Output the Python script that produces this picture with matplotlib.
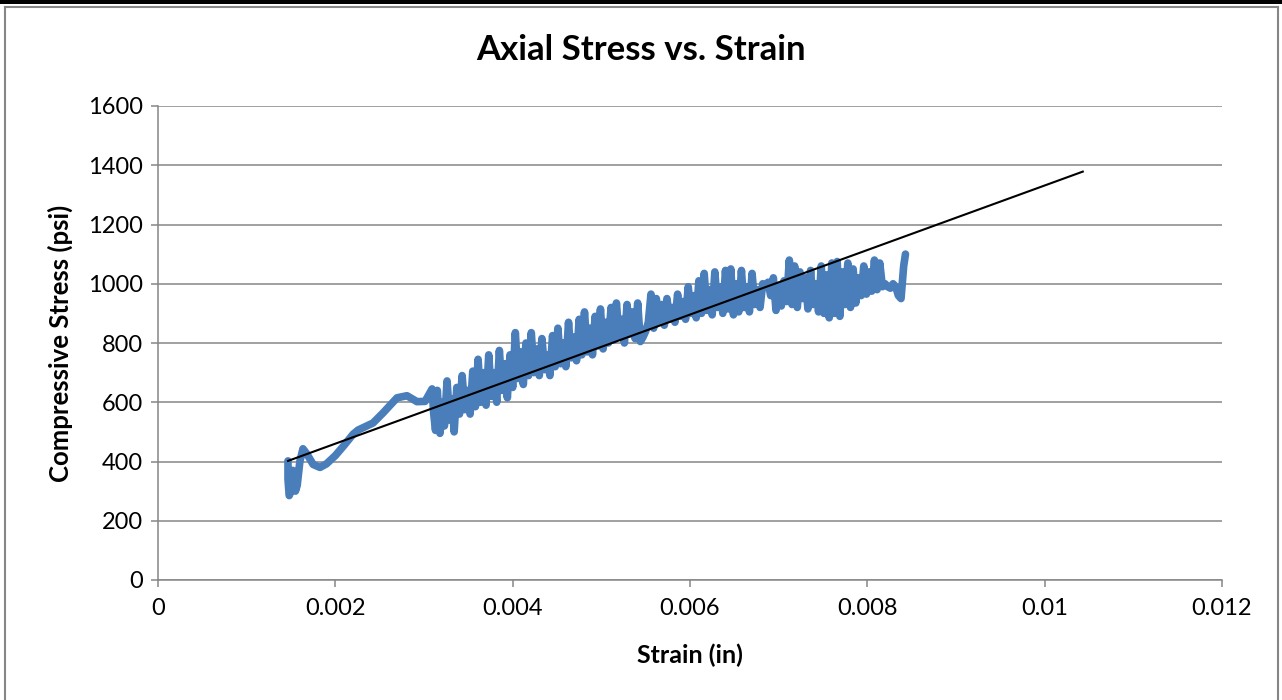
import matplotlib
matplotlib.use("Agg")
import matplotlib.pyplot as plt
from matplotlib.patches import Rectangle
from matplotlib.lines import Line2D

# Smooth start of the test record (strain, psi)
strain_start = [0.001466, 0.001466, 0.00148, 0.00150, 0.00152, 0.00154, 0.00155,
                0.00157, 0.00160, 0.001635, 0.00168, 0.00175, 0.001827, 0.00190,
                0.00200, 0.00210, 0.00220, 0.002256, 0.002425, 0.002538, 0.002696,
                0.002808, 0.002921, 0.003012, 0.003091]
stress_start = [402, 340, 285, 300, 370, 350, 300,
                320, 400, 443, 425, 390, 380, 392,
                420, 455, 492, 506, 530, 564, 615,
                622, 602, 603, 645]

# Noisy part of the record (one row of strain per row of stress)
strain_noisy = [
    0.00311, 0.00313, 0.00315, 0.00318, 0.00321, 0.00323, 0.00326, 0.00329, 0.00332, 0.00334,
    0.00337, 0.00340, 0.00343, 0.00346, 0.00349, 0.00352, 0.00355, 0.00358, 0.00361, 0.00364,
    0.00367, 0.00370, 0.00373, 0.00376, 0.00379, 0.00382, 0.00385, 0.00388, 0.00391, 0.00394,
    0.00397, 0.00400, 0.00403, 0.00406, 0.00409, 0.00412, 0.00415, 0.00418, 0.00421, 0.00424,
    0.00427, 0.00430, 0.00433, 0.00436, 0.00439, 0.00442, 0.00445, 0.00448, 0.00451, 0.00454,
    0.00457, 0.00460, 0.00463, 0.00466, 0.00469, 0.00472, 0.00475, 0.00478, 0.00481, 0.00484,
    0.00487, 0.00490, 0.00493, 0.00496, 0.00499, 0.00502, 0.00505, 0.00508, 0.00511, 0.00514,
    0.00517, 0.00520, 0.00523, 0.00526, 0.00529, 0.00532, 0.00535, 0.00538, 0.00541, 0.00544,
    0.00547, 0.00550, 0.00553, 0.00556, 0.00559, 0.00562, 0.00565, 0.00568, 0.00571, 0.00574,
    0.00577, 0.00580, 0.00583, 0.00586, 0.00589, 0.00592, 0.00595, 0.00598, 0.00601, 0.00604,
    0.00607, 0.00610, 0.00613, 0.00616, 0.00619, 0.00622, 0.00625, 0.00628, 0.00631, 0.00634,
    0.00637, 0.00640, 0.00643, 0.00646, 0.00649, 0.00652, 0.00655, 0.00658, 0.00661, 0.00664,
    0.00667, 0.00670, 0.00673, 0.00676, 0.00679, 0.00682, 0.00685, 0.00688, 0.00691, 0.00694,
    0.00697, 0.00700, 0.00703, 0.00706, 0.00709, 0.00712, 0.00715, 0.00718, 0.00721, 0.00724,
    0.00727, 0.00730, 0.00733, 0.00736, 0.00739, 0.00742, 0.00745, 0.00748, 0.00751, 0.00754,
    0.00757, 0.00760, 0.00763, 0.00766, 0.00769, 0.00772, 0.00775, 0.00778, 0.00781, 0.00784,
    0.00787, 0.00790, 0.00793, 0.00796, 0.00799, 0.00802, 0.00805, 0.00808, 0.00811, 0.00814,
    0.00817, 0.00820, 0.00823, 0.00826, 0.00829, 0.00832, 0.00835, 0.00838, 0.00841, 0.00843,
]
stress_noisy = [
    560, 505, 640, 495, 600, 520, 672, 540, 610, 500,
    650, 560, 690, 575, 640, 560, 705, 585, 745, 600,
    700, 590, 760, 620, 700, 600, 775, 640, 730, 615,
    760, 650, 835, 680, 770, 660, 800, 690, 835, 700,
    780, 690, 815, 710, 760, 690, 825, 720, 850, 730,
    800, 720, 870, 750, 820, 740, 880, 760, 905, 770,
    850, 760, 890, 790, 915, 780, 870, 800, 920, 810,
    935, 820, 880, 800, 930, 830, 905, 815, 935, 805,
    820, 840, 870, 965, 850, 950, 870, 930, 860, 950,
    880, 920, 870, 965, 890, 940, 880, 990, 900, 960,
    885, 1010, 900, 1035, 910, 980, 895, 1040, 920, 990,
    900, 1045, 915, 1050, 895, 1000, 905, 1045, 920, 990,
    905, 1035, 930, 980, 920, 1000, 990, 1005, 960, 1020,
    910, 990, 925, 1010, 940, 1080, 930, 1060, 920, 1040,
    950, 1020, 915, 1045, 930, 1000, 905, 1060, 900, 1030,
    885, 1070, 900, 1075, 890, 1040, 930, 1070, 920, 1050,
    935, 1020, 960, 1060, 965, 1040, 975, 1080, 980, 1070,
    990, 1000, 990, 985, 1000, 990, 960, 950, 1060, 1100,
]

strain = strain_start + strain_noisy
stress = stress_start + stress_noisy

# Linear trendline (forecast forward)
trend_slope = 108939.0
trend_intercept = 242.3
trend_x = [0.001466, 0.01043]

y_ticks = [0, 200, 400, 600, 800, 1000, 1200, 1400, 1600]
x_ticks = [0, 0.002, 0.004, 0.006, 0.008, 0.01, 0.012]
x_labels = ["0", "0.002", "0.004", "0.006", "0.008", "0.01", "0.012"]

BLUE = "#4A7EBB"
GRID = "#868686"
FONT = "Lato"

fig = plt.figure(figsize=(12.82, 7.0), dpi=100)
ax = fig.add_axes([158 / 1282, 120 / 700, 1064 / 1282, 474 / 700])

ax.plot(strain, stress, color=BLUE, lw=5.5, solid_joinstyle="round",
        solid_capstyle="round", zorder=3)
ax.plot(trend_x, [trend_intercept + trend_slope * x for x in trend_x],
        color="black", lw=1.5, zorder=4)

ax.set_xlim(0, 0.012)
ax.set_ylim(0, 1600)
ax.set_yticks(y_ticks, [str(v) for v in y_ticks])
ax.set_xticks(x_ticks, x_labels)
ax.grid(axis="y", color=GRID, lw=1.1)
ax.set_axisbelow(True)
for s in ["top", "right"]:
    ax.spines[s].set_visible(False)
for s in ["left", "bottom"]:
    ax.spines[s].set_color(GRID)
    ax.spines[s].set_linewidth(1.1)
ax.tick_params(axis="both", colors=GRID, length=5, width=1.1, labelsize=17,
               labelcolor="black")
ax.tick_params(axis="x", pad=8)
ax.tick_params(axis="y", pad=6)
for lab in ax.get_xticklabels() + ax.get_yticklabels():
    lab.set_fontfamily(FONT)

ax.set_xlabel("Strain (in)", fontsize=18, fontweight="bold", family=FONT, va="center")
ax.set_ylabel("Compressive Stress (psi)", fontsize=18.5, fontweight="bold", family=FONT,
              va="center")
ax.xaxis.set_label_coords(0.5, -(655 - 580) / 474)
ax.yaxis.set_label_coords((60 - 158) / 1064, 0.5)
fig.text(0.5, 1 - 50 / 700, "Axial Stress vs. Strain", ha="center", va="center",
         fontsize=25, fontweight="bold", family=FONT)

# chart frame
fig.add_artist(Rectangle((0, 1 - 4 / 700), 1, 4 / 700, transform=fig.transFigure,
                         color="black", lw=0))
fig.add_artist(Line2D([5 / 1282, 1278 / 1282], [1 - 7 / 700, 1 - 7 / 700],
                      transform=fig.transFigure, color=GRID, lw=1.5))
fig.add_artist(Line2D([5 / 1282, 5 / 1282], [0, 1 - 7 / 700],
                      transform=fig.transFigure, color=GRID, lw=1.5))
fig.add_artist(Line2D([1278 / 1282, 1278 / 1282], [0, 1 - 7 / 700],
                      transform=fig.transFigure, color=GRID, lw=1.5))

fig.savefig("out.png", dpi=100)
